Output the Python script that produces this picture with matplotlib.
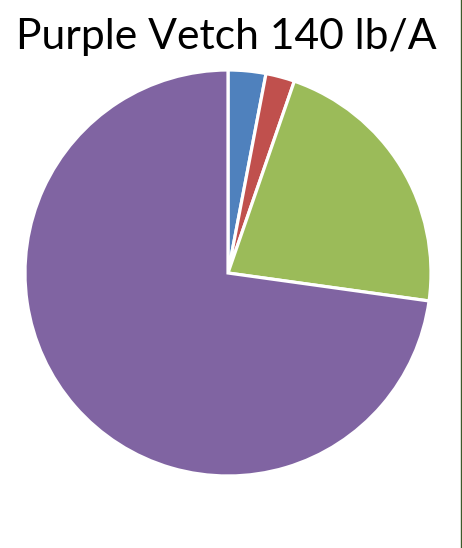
import matplotlib
matplotlib.use("Agg")
import matplotlib.pyplot as plt
from matplotlib.lines import Line2D

title = "Purple Vetch 140 lb/A"
categories = ["A", "B", "C", "D"]
values = [3.0, 2.3, 21.9, 72.8]
colors = ["#4F81BD", "#C0504D", "#9BBB59", "#8064A2"]

fig = plt.figure(figsize=(4.62, 5.48), dpi=100)
ax = fig.add_axes([25/462, 72/548, 406/462, 406/548])
ax.pie(values, colors=colors, startangle=90, counterclock=False,
       wedgeprops=dict(edgecolor="white", linewidth=2.3), radius=1.0)
ax.set_xlim(-1, 1)
ax.set_ylim(-1, 1)
ax.set_aspect("equal")
ax.axis("off")

fig.text(226/462, 1 - 37/548, title, ha="center", va="center",
         fontsize=30.7, family=["Lato", "DejaVu Sans"], color="black")

fig.add_artist(Line2D([460.5/462, 460.5/462], [0, 1], transform=fig.transFigure,
                      color="#3d5a2a", linewidth=1.0))

fig.savefig("out.png", dpi=100, facecolor="white")
